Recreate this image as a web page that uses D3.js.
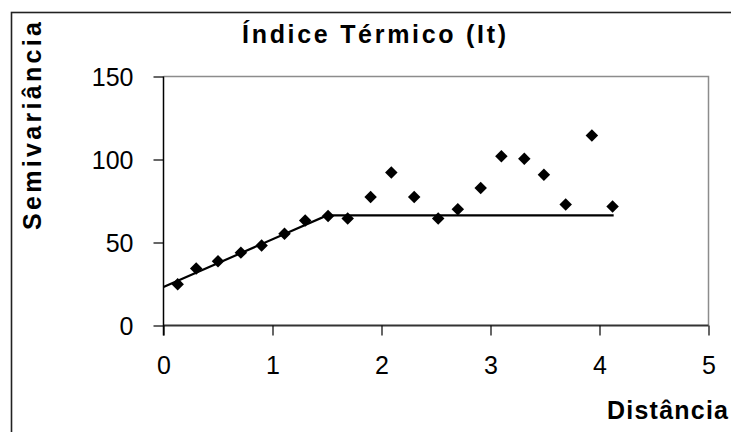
<!DOCTYPE html>
<html>
<head>
<meta charset="utf-8">
<script src="https://cdn.jsdelivr.net/npm/d3@7"></script>
<style>
  html, body { margin: 0; padding: 0; background: #fff; }
  svg { display: block; }
  text { font-family: "Liberation Sans", Arial, sans-serif; fill: #000; }
</style>
</head>
<body>
<svg id="chart" width="731" height="432"></svg>
<script>
// ---- data ----
const title = "Índice Térmico (It)";
const xLabel = "Distância";
const yLabel = "Semivariância";
const lagDistance = [0.13, 0.30, 0.50, 0.71, 0.90, 1.11, 1.30, 1.51, 1.69, 1.90, 2.09, 2.30, 2.52, 2.70, 2.91, 3.10, 3.31, 3.49, 3.69, 3.93, 4.12];
const semivariance = [24.9, 34.3, 38.7, 43.9, 48.2, 55.2, 63.3, 65.9, 64.5, 77.4, 92.2, 77.4, 64.5, 70.1, 82.8, 101.9, 100.5, 90.8, 72.9, 114.4, 71.7];
const modelX = [0, 1.5, 4.13];
const modelY = [23.2, 66.3, 66.3];
const xTicks = [0, 1, 2, 3, 4, 5];
const yTicks = [0, 50, 100, 150];

// ---- layout ----
const svg = d3.select("#chart");
const plot = { left: 163.5, right: 708.5, top: 76.5, bottom: 325.5 };
const x = d3.scaleLinear().domain([0, 5]).range([plot.left, plot.right]);
const y = d3.scaleLinear().domain([0, 150]).range([plot.bottom, plot.top]);

// outer chart frame (extends past the window on right/bottom)
svg.append("rect")
  .attr("x", 11.5).attr("y", 12.5)
  .attr("width", 900).attr("height", 600)
  .attr("fill", "none").attr("stroke", "#222").attr("stroke-width", 1.6);

// plot area border (top/right gray)
svg.append("path")
  .attr("d", `M${plot.left},${plot.top}H${plot.right}V${plot.bottom}`)
  .attr("fill", "none").attr("stroke", "#8c8c8c").attr("stroke-width", 1.5);

// axes
const xAxis = svg.append("g")
  .attr("transform", `translate(0,${plot.bottom})`)
  .call(d3.axisBottom(x).tickValues(xTicks).tickSize(10).tickPadding(21).tickFormat(d3.format("d")));
const yAxis = svg.append("g")
  .attr("transform", `translate(${plot.left},0)`)
  .call(d3.axisLeft(y).tickValues(yTicks).tickSize(10).tickPadding(20).tickFormat(d3.format("d")));

[xAxis, yAxis].forEach(g => {
  g.select(".domain").attr("stroke", "#000").attr("stroke-width", 1.5);
  g.selectAll(".tick line").attr("stroke", "#000").attr("stroke-width", 1.2);
  g.selectAll(".tick text")
    .style("font-family", "'Liberation Sans', Arial, sans-serif")
    .style("font-size", "25px").attr("fill", "#000");
});
xAxis.select(".domain").attr("d", `M${plot.left},0H${plot.right}`).attr("stroke", "#333").attr("stroke-width", 2);
yAxis.select(".domain").attr("d", `M0,${plot.top}V${plot.bottom + 10}`);
yAxis.selectAll(".tick text").attr("dy", "0.36em");
xAxis.selectAll(".tick text").attr("dy", "0.71em");

// model line
const model = modelX.map((d, i) => [d, modelY[i]]);
svg.append("path")
  .datum(model)
  .attr("d", d3.line().x(d => x(d[0])).y(d => y(d[1])))
  .attr("fill", "none").attr("stroke", "#000").attr("stroke-width", 2.2);

// points (diamonds)
const pts = lagDistance.map((d, i) => [d, semivariance[i]]);
const diamond = d3.symbol().type(d3.symbolSquare).size(78);
svg.append("g").selectAll("path")
  .data(pts).join("path")
  .attr("d", diamond)
  .attr("transform", d => `translate(${x(d[0])},${y(d[1])}) rotate(45)`)
  .attr("fill", "#000");

// title
svg.append("text")
  .attr("x", 242).attr("y", 43)
  .attr("textLength", 264).attr("lengthAdjust", "spacing")
  .style("font-size", "25px").style("font-weight", "bold")
  .text(title);

// x label
svg.append("text")
  .attr("x", 607).attr("y", 419)
  .attr("textLength", 121).attr("lengthAdjust", "spacing")
  .style("font-size", "25px").style("font-weight", "bold")
  .text(xLabel);

// y label
svg.append("text")
  .attr("transform", "translate(41,230) rotate(-90)")
  .attr("x", 0).attr("y", 0)
  .attr("textLength", 208).attr("lengthAdjust", "spacing")
  .style("font-size", "25px").style("font-weight", "bold")
  .text(yLabel);
</script>
</body>
</html>
